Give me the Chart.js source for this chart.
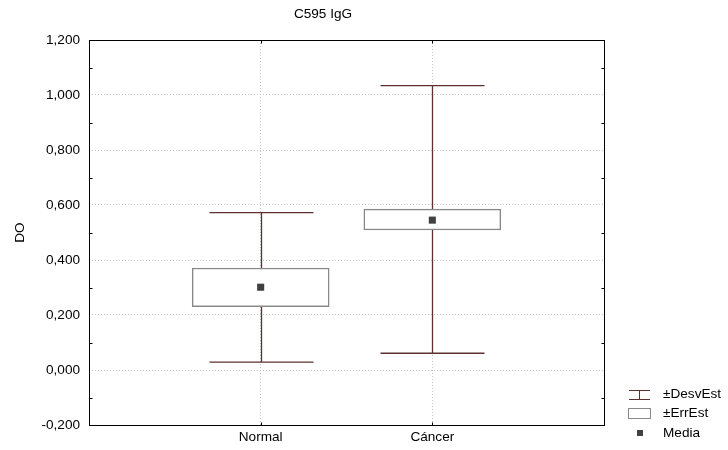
<!DOCTYPE html>
<html>
<head>
<meta charset="utf-8">
<script src="https://cdn.jsdelivr.net/npm/chart.js@4/dist/chart.umd.min.js"></script>
<style>
  body { margin: 0; background: #fff; }
  #wrap { width: 728px; height: 450px; }
</style>
</head>
<body>
<div id="wrap"><canvas id="myChart" width="728" height="450"></canvas></div>
<script>
// categories and their x positions on the linear axis
let categories = ["Normal", "Cáncer"];
let catPos = [1, 2];
// mean, +/- standard error (box), +/- standard deviation (whiskers)
let media = [0.301, 0.545];
let errLow = [0.230, 0.509];
let errHigh = [0.371, 0.585];
let desvLow = [0.029, 0.061];
let desvHigh = [0.572, 1.034];
let yTicks = [-0.2, 0, 0.2, 0.4, 0.6, 0.8, 1.0, 1.2];

const FONT = "'Liberation Sans', Arial, sans-serif";
const FSIZE = 13.6;
const WHISKER = "#5e3030";

// whiskers, drawn under the boxes
const whiskerPlugin = {
  id: "whiskers",
  beforeDatasetsDraw(chart) {
    const ctx = chart.ctx, xs = chart.scales.x, ys = chart.scales.y;
    ctx.save();
    ctx.strokeStyle = WHISKER;
    ctx.lineWidth = 1.3;
    catPos.forEach((p, i) => {
      const x = Math.round(xs.getPixelForValue(p)) + 0.5;
      const yt = ys.getPixelForValue(desvHigh[i]);
      const yb = ys.getPixelForValue(desvLow[i]);
      ctx.beginPath();
      ctx.moveTo(x, yt); ctx.lineTo(x, yb);
      ctx.moveTo(x - 52, yt); ctx.lineTo(x + 52, yt);
      ctx.moveTo(x - 52, yb); ctx.lineTo(x + 52, yb);
      ctx.stroke();
    });
    ctx.restore();
  }
};

// frame, minor ticks, title and legend
const framePlugin = {
  id: "frame",
  afterDraw(chart) {
    const ctx = chart.ctx, a = chart.chartArea, xs = chart.scales.x, ys = chart.scales.y;
    ctx.save();
    ctx.strokeStyle = "#000";
    ctx.lineWidth = 1;
    const l = Math.round(a.left) + 0.5, r = Math.round(a.right) + 0.5;
    const t = Math.round(a.top) + 0.5, b = Math.round(a.bottom) + 0.5;
    ctx.strokeRect(l, t, r - l, b - t);
    ctx.beginPath();
    for (let v = -0.1; v < 1.2; v += 0.2) {
      const y = Math.round(ys.getPixelForValue(v)) + 0.5;
      ctx.moveTo(l, y); ctx.lineTo(l + 3, y);
      ctx.moveTo(r, y); ctx.lineTo(r - 3, y);
    }
    catPos.forEach((p) => {
      const x = Math.round(xs.getPixelForValue(p)) + 0.5;
      ctx.moveTo(x, t); ctx.lineTo(x, t + 3);
      ctx.moveTo(x, b); ctx.lineTo(x, b - 3);
    });
    ctx.stroke();

    ctx.fillStyle = "#000";
    ctx.font = FSIZE + "px " + FONT;
    ctx.textBaseline = "middle";
    ctx.textAlign = "center";
    ctx.fillText("C595 IgG", 323, 14);

    // legend
    ctx.textAlign = "left";
    ctx.strokeStyle = WHISKER;
    ctx.beginPath();
    ctx.moveTo(629, 390.5); ctx.lineTo(650, 390.5);
    ctx.moveTo(629, 399.5); ctx.lineTo(650, 399.5);
    ctx.moveTo(639.5, 390.5); ctx.lineTo(639.5, 399.5);
    ctx.stroke();
    ctx.fillText("±DesvEst", 663, 394);
    ctx.strokeStyle = "#888";
    ctx.strokeRect(628.5, 408.5, 22, 10);
    ctx.fillText("±ErrEst", 663, 413);
    ctx.fillStyle = "#404040";
    ctx.fillRect(637, 430, 6, 6);
    ctx.fillStyle = "#000";
    ctx.fillText("Media", 663, 433);
    ctx.restore();
  }
};

let ctx = document.getElementById("myChart").getContext("2d");
let boxChart = new Chart(ctx, {
  type: "bar",
  data: {
    datasets: [
      {
        type: "line",
        label: "Media",
        data: catPos.map((p, i) => ({ x: p, y: media[i] })),
        showLine: false,
        pointStyle: "rect",
        pointRadius: 5,
        pointBackgroundColor: "#404040",
        pointBorderWidth: 0,
        order: 0,
      },
      {
        label: "±ErrEst",
        data: catPos.map((p, i) => ({ x: p, y: [errLow[i], errHigh[i]] })),
        backgroundColor: "#fff",
        borderColor: "#888",
        borderWidth: 1.5,
        borderSkipped: false,
        barThickness: 137,
        order: 1,
      },
    ],
  },
  options: {
    responsive: false,
    animation: false,
    layout: { padding: { top: 40, right: 124, left: 0, bottom: 0 } },
    plugins: {
      legend: { display: false },
      title: { display: false },
      tooltip: { enabled: false },
    },
    scales: {
      x: {
        type: "linear",
        min: 0,
        max: 3,
        offset: false,
        afterBuildTicks: (scale) => {
          scale.ticks = catPos.map((p) => ({ value: p }));
        },
        afterFit: (scale) => { scale.height = 25; },
        ticks: {
          color: "#000",
          font: { family: FONT, size: FSIZE },
          padding: 4,
          callback: (v) => categories[catPos.indexOf(v)],
        },
        grid: { offset: false, color: "#c4c4c4", drawTicks: false },
        border: { display: false, dash: [1, 2] },
      },
      y: {
        min: -0.2,
        max: 1.2,
        afterBuildTicks: (scale) => {
          scale.ticks = yTicks.map((v) => ({ value: v }));
        },
        afterFit: (scale) => { scale.width = 89; },
        ticks: {
          color: "#000",
          font: { family: FONT, size: FSIZE },
          padding: 9,
          callback: (v) => v.toFixed(3).replace(".", ","),
        },
        title: {
          display: true,
          text: "DO",
          color: "#000",
          font: { family: FONT, size: FSIZE },
          padding: { top: 12, bottom: 0 },
        },
        grid: { color: "#c4c4c4", drawTicks: false },
        border: { display: false, dash: [1, 2] },
      },
    },
  },
  plugins: [whiskerPlugin, framePlugin],
});
</script>
</body>
</html>
